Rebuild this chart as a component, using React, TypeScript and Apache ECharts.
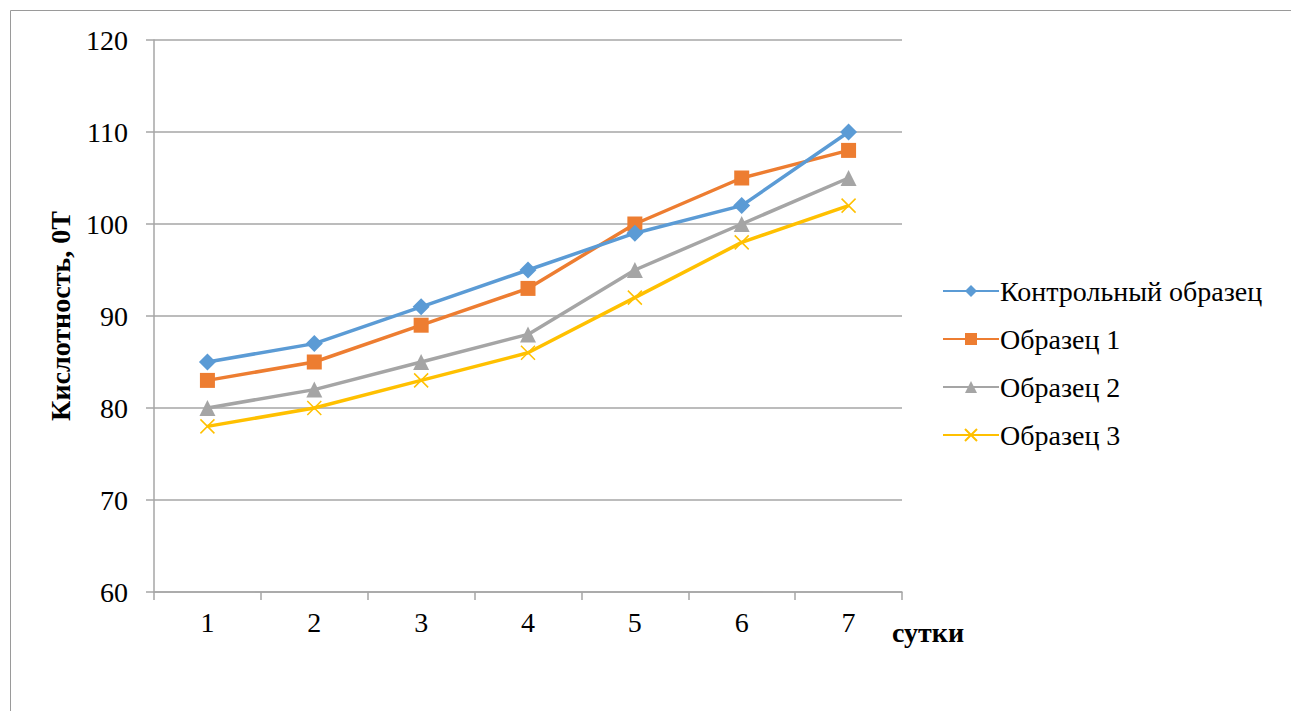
import React, { useEffect, useRef } from "react";
import * as echarts from "echarts";

const days = ["1", "2", "3", "4", "5", "6", "7"];
const seriesNames = ["Контрольный образец", "Образец 1", "Образец 2", "Образец 3"];
const control = [85, 87, 91, 95, 99, 102, 110];
const sample1 = [83, 85, 89, 93, 100, 105, 108];
const sample2 = [80, 82, 85, 88, 95, 100, 105];
const sample3 = [78, 80, 83, 86, 92, 98, 102];
const colors = ["#5B9BD5", "#ED7D31", "#A5A5A5", "#FFC000"];
const yAxisTitle = "Кислотность, 0T";
const xAxisTitle = "сутки";

const FONT = "Liberation Serif";
const CROSS = "path://M0,0 L10,10 M10,0 L0,10";

export default function App() {
  const ref = useRef<HTMLDivElement>(null);
  useEffect(() => {
    if (!ref.current) return;
    const chart = echarts.init(ref.current, undefined, { renderer: "svg" });
    const values = [control, sample1, sample2, sample3];
    const symbols = ["diamond", "rect", "triangle", CROSS];
    const sizes = [17, 15, 16, 14];
    chart.setOption({
      animation: false,
      textStyle: { fontFamily: FONT },
      graphic: [
        {
          type: "rect",
          shape: { x: 10.5, y: 10.5, width: 1300, height: 720 },
          style: { fill: "none", stroke: "#9a9a9a", lineWidth: 1 },
          silent: true,
        },
        {
          type: "text",
          left: 892,
          top: 618,
          style: { text: xAxisTitle, fontFamily: FONT, fontSize: 28, fontWeight: "bold", fill: "#000" },
        },
      ],
      grid: { left: 154, top: 40, right: 389, bottom: 119, containLabel: false },
      legend: {
        orient: "vertical",
        left: 942,
        top: 277,
        padding: 0,
        itemWidth: 56,
        itemHeight: 15,
        itemGap: 20,
        textStyle: { fontSize: 28, color: "#000", fontFamily: FONT, padding: [0, 0, 0, -4] },
        data: seriesNames,
      },
      xAxis: {
        type: "category",
        data: days,
        boundaryGap: true,
        axisLine: { lineStyle: { color: "#a6a6a6", width: 1.5 } },
        axisTick: { show: true, length: 8, inside: false, lineStyle: { color: "#a6a6a6", width: 1.5 } },
        axisLabel: { fontSize: 28, color: "#000", margin: 16, fontFamily: FONT },
        splitLine: { show: false },
      },
      yAxis: {
        type: "value",
        min: 60,
        max: 120,
        interval: 10,
        name: yAxisTitle,
        nameLocation: "middle",
        nameGap: 80,
        nameRotate: 90,
        nameTextStyle: { fontSize: 28, fontWeight: "bold", color: "#000", fontFamily: FONT },
        axisLine: { show: true, lineStyle: { color: "#a6a6a6", width: 1.5 } },
        axisTick: { show: true, length: 8, inside: false, lineStyle: { color: "#a6a6a6", width: 1.5 } },
        axisLabel: { fontSize: 28, color: "#000", margin: 26, fontFamily: FONT },
        splitLine: { show: true, lineStyle: { color: "#a6a6a6", width: 1.5 } },
      },
      series: seriesNames.map((name, i) => ({
        name,
        type: "line",
        data: values[i],
        symbol: symbols[i],
        symbolSize: sizes[i],
        showSymbol: true,
        lineStyle: { color: colors[i], width: 3.5 },
        itemStyle: i === 3
          ? { color: colors[i], borderColor: colors[i], borderWidth: 1.5 }
          : { color: colors[i], borderWidth: 0 },
        z: 10 - i,
      })),
    });
    return () => chart.dispose();
  }, []);
  return (
    <div
      ref={ref}
      style={{ position: "absolute", left: 0, top: 0, width: 1291, height: 711, background: "#fff" }}
    />
  );
}
